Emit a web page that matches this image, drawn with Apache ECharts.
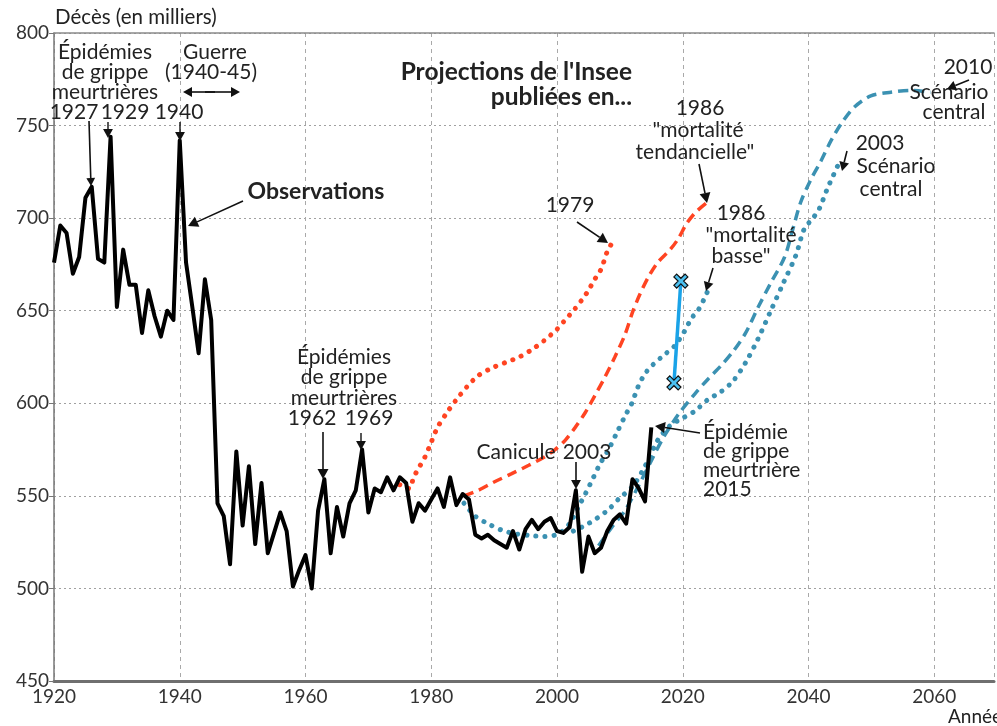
<!DOCTYPE html>
<html><head><meta charset="utf-8">
<script src="https://cdn.jsdelivr.net/npm/echarts@6/dist/echarts.min.js"></script>
<style>html,body{margin:0;padding:0;background:#fff}#c{width:997px;height:726px}</style>
</head><body><div id="c"></div>
<script>
const FONT = 'Lato';
const startYear = 1920;
const observations = [
 676,696,692,670,679,711,717,678,676,744,
 652,683,664,664,638,661,647,636,650,645,
 742,676,652,627,667,645,546,539,513,574,
 534,566,524,557,519,530,541,531,501,510,
 518,500,542,559,519,544,528,546,553,575,
 541,554,552,560,553,560,557,536,546,542,
 548,554,544,560,545,551,548,529,527,529,
 526,524,522,531,521,532,537,532,536,538,
 531,530,533,553,509,528,519,522,531,537,
 540,535,559,554,547,587];
const proj1979 = [[1975,556],[1976.5,554],[1977.2,560],[1978,565],[1979,571],[1980,579],[1981,587],[1982.5,595],[1984,602],[1985.7,609],[1987.5,615],[1989.6,619],[1991.8,622],[1994,625],[1996,629],[1998,634],[2000,640],[2001.3,645],[2002.6,650],[2004,656],[2005,661],[2006,667],[2006.8,671],[2007.4,676],[2008,682],[2009,688]];
const proj1986tend = [[1985.2,550],[1987.5,553],[1990,557.5],[1992.8,562],[1995.5,566.5],[1998,571],[1999.7,575],[2001.3,580],[2002.9,587],[2004.5,595],[2006,604],[2007.6,614],[2009.2,625],[2010.8,637],[2012.1,650],[2013.2,659],[2014.5,668],[2016,676],[2018,683],[2019.3,689],[2020.6,697],[2022,703],[2023.7,708]];
const proj1986basse = [[1985.2,546],[1987,539],[1989,535],[1991.2,531.5],[1993.4,529.5],[1996,528.5],[1998,528],[2000.2,529.5],[2002,535],[2003.4,544],[2004.5,551],[2005.8,560],[2006.8,567],[2008.2,575],[2009.5,584],[2010.8,593],[2011.9,600],[2012.9,609],[2014,616],[2015.3,621],[2017,626],[2018.7,631],[2020.3,639],[2021.4,646],[2022.4,650],[2023.5,657],[2024,661]];
const proj2003 = [[2002.6,531],[2005,535],[2008,542],[2010,549],[2012,555],[2014,566],[2016,580],[2018,588],[2020,592],[2022,596],[2024,602],[2026,606],[2028,612],[2030,622],[2032,635],[2034,650],[2036,665],[2038,680],[2039.3,694],[2040.7,700],[2041.7,705],[2043,716],[2043.8,722],[2044.6,728]];
const proj2010 = [[2006.6,523],[2008.7,533],[2010.8,542],[2012.9,555],[2015,569],[2017,582],[2019.3,594],[2021.9,605],[2024,613],[2026,620],[2028,628],[2030,638],[2032,652],[2034,665],[2036.2,679],[2037.5,694],[2038.8,709],[2040.4,721],[2042,731],[2043.6,742],[2045.2,751],[2047.3,760],[2049.9,766],[2053.1,768],[2056.3,769],[2059.4,768]];
const blueMarkers = [[2018.6,611],[2019.7,666]];
const xTicks = [1920,1940,1960,1980,2000,2020,2040,2060];
const yTicks = [450,500,550,600,650,700,750,800];

const obsData = observations.map((v,i)=>[startYear+i, v]);
const RED = '#ff4422', TEAL = '#3b91b2';
const X_PATH = 'path://M2,0 L5,3 L8,0 L10,2 L7,5 L10,8 L8,10 L5,7 L2,10 L0,8 L3,5 L0,2 Z';

const chart = echarts.init(document.getElementById('c'), null, {renderer:'canvas'});
const AN = 21;
const txt = (s, x, y, opt={}) => ({type:'text', x, y, style:{text:s, font:`${opt.w||'normal'} ${opt.size||AN}px ${FONT}`, fill:opt.fill||'#222', textAlign:opt.align||'center', textVerticalAlign:'middle'}, z:10});
function arrow(x1,y1,x2,y2,h=8,w=1.6){
  const a = Math.atan2(y2-y1,x2-x1), hw=h*0.55;
  const bx = x2 - h*Math.cos(a), by = y2 - h*Math.sin(a);
  return [
    {type:'line', shape:{x1,y1,x2:bx,y2:by}, style:{stroke:'#111', lineWidth:w}, z:10},
    {type:'polygon', shape:{points:[[x2,y2],[bx+hw*Math.sin(a),by-hw*Math.cos(a)],[bx-hw*Math.sin(a),by+hw*Math.cos(a)]]}, style:{fill:'#111'}, z:10}
  ];
}
const g = [];
g.push(txt('Décès (en milliers)', 55, 17, {align:'left', size:20.5}));
g.push(txt('Années', 948, 717, {align:'left', size:19}));
['Épidémies','de grippe','meurtrières'].forEach((s,i)=>g.push(txt(s, 105, 52+i*20)));
g.push(txt('1927', 74, 112)); g.push(txt('1929', 125, 112)); g.push(txt('1940', 179, 112));
g.push(...arrow(89,121,91,186));
g.push(...arrow(108,122,108,138,9,1.4));
g.push(...arrow(180,122,180,141,9,1.4));
g.push(txt('Guerre', 215, 52)); g.push(txt('(1940-45)', 211, 72));
g.push(...arrow(205,92,240,92,9,1.6)); g.push(...arrow(215,92,183,92,9,1.6));
g.push(txt('Observations', 316, 192, {w:'bold', size:23}));
g.push(...arrow(243,201,188,226,10,1.6));
g.push(txt("Projections de l'Insee", 632, 72, {w:'bold', size:24.5, align:'right'}));
g.push(txt('publiées en...', 632, 97, {w:'bold', size:24.5, align:'right'}));
g.push(txt('1979', 570, 205));
g.push(...arrow(577,222,608,243,10,1.6));
g.push(txt('1986', 700, 108)); g.push(txt('"mortalité', 698, 130)); g.push(txt('tendancielle"', 695, 152));
g.push(...arrow(699,164,707,203,10,1.6));
g.push(txt('1986', 741, 213)); g.push(txt('"mortalité', 751, 235)); g.push(txt('basse"', 741, 256));
g.push(...arrow(713,268,706,291,9,1.6));
g.push(txt('2010', 968, 67)); g.push(txt('Scénario', 949, 92)); g.push(txt('central', 954, 112));
g.push(...arrow(969,80,947,89,9,1.6));
g.push(txt('2003', 880, 143)); g.push(txt('Scénario', 896, 166)); g.push(txt('central', 891, 189));
g.push(...arrow(847,151,842,171,9,1.6));
['Épidémies','de grippe','meurtrières'].forEach((s,i)=>g.push(txt(s, 344, 357+i*20.5)));
g.push(txt('1962', 312, 418)); g.push(txt('1969', 369, 418));
g.push(...arrow(323,432,323,479,10,1.6));
g.push(...arrow(361,433,361,450,9,1.4));
g.push(txt('Canicule', 516, 452)); g.push(txt('2003', 587, 452));
g.push(...arrow(576,462,576,489,9,1.6));
['Épidémie','de grippe','meurtrière','2015'].forEach((s,i)=>g.push(txt(s, 703, 432+i*19.2, {align:'left'})));
g.push(...arrow(700,433,655,426,10,1.6));

chart.setOption({
  animation:false,
  grid:{left:54, right:0, top:33, bottom:45, containLabel:false},
  xAxis:[{type:'value', min:1920, max:2069.5, interval:20,
    axisLine:{show:true, lineStyle:{color:'#6f6f6f', width:3}},
    axisTick:{show:false},
    axisLabel:{color:'#333', fontFamily:FONT, fontSize:19, margin:6, formatter:v=> xTicks.includes(v)?String(v):''},
    splitLine:{show:true, lineStyle:{color:'#a9a9a9', width:1, type:[4,4]}}},
   {type:'value', position:'top', min:1920, max:2069.5, axisLine:{show:true, onZero:false, lineStyle:{color:'#8a8a8a', width:1.5}}, axisTick:{show:false}, axisLabel:{show:false}, splitLine:{show:false}}],
  yAxis:{type:'value', min:450, max:800, interval:50,
    axisLine:{show:true, lineStyle:{color:'#777', width:1.5}},
    axisTick:{show:true, length:5, lineStyle:{color:'#777'}},
    axisLabel:{color:'#333', fontFamily:FONT, fontSize:19, margin:5, formatter:v=> yTicks.includes(v)?String(v):''},
    splitLine:{show:true, lineStyle:{color:'#a0a0a0', width:1, type:[2,3]}}},
  series:[
    {type:'line', data:proj1979, showSymbol:false, smooth:0.3, lineStyle:{color:RED, width:5, type:[0.1,9], cap:'round'}, z:3},
    {type:'line', data:proj1986tend, showSymbol:false, smooth:0.3, lineStyle:{color:RED, width:3.5, type:[10,6]}, z:3},
    {type:'line', data:proj1986basse, showSymbol:false, smooth:0.3, lineStyle:{color:TEAL, width:5, type:[0.1,9], cap:'round'}, z:3},
    {type:'line', data:proj2003, showSymbol:false, smooth:0.3, lineStyle:{color:TEAL, width:5, type:[0.1,9], cap:'round'}, z:3},
    {type:'line', data:proj2010, showSymbol:false, smooth:0.3, lineStyle:{color:TEAL, width:3.5, type:[10,6]}, z:3},
    {type:'line', data:obsData, showSymbol:false, lineStyle:{color:'#000', width:4, join:'round'}, z:5},
    {type:'line', data:blueMarkers, symbol:X_PATH, symbolSize:14, showSymbol:true,
      lineStyle:{color:'#1aa3e8', width:3.5}, itemStyle:{color:'#4cc0f0', borderColor:'#111', borderWidth:1.2}, z:6}
  ],
  graphic:g
});
</script></body></html>
